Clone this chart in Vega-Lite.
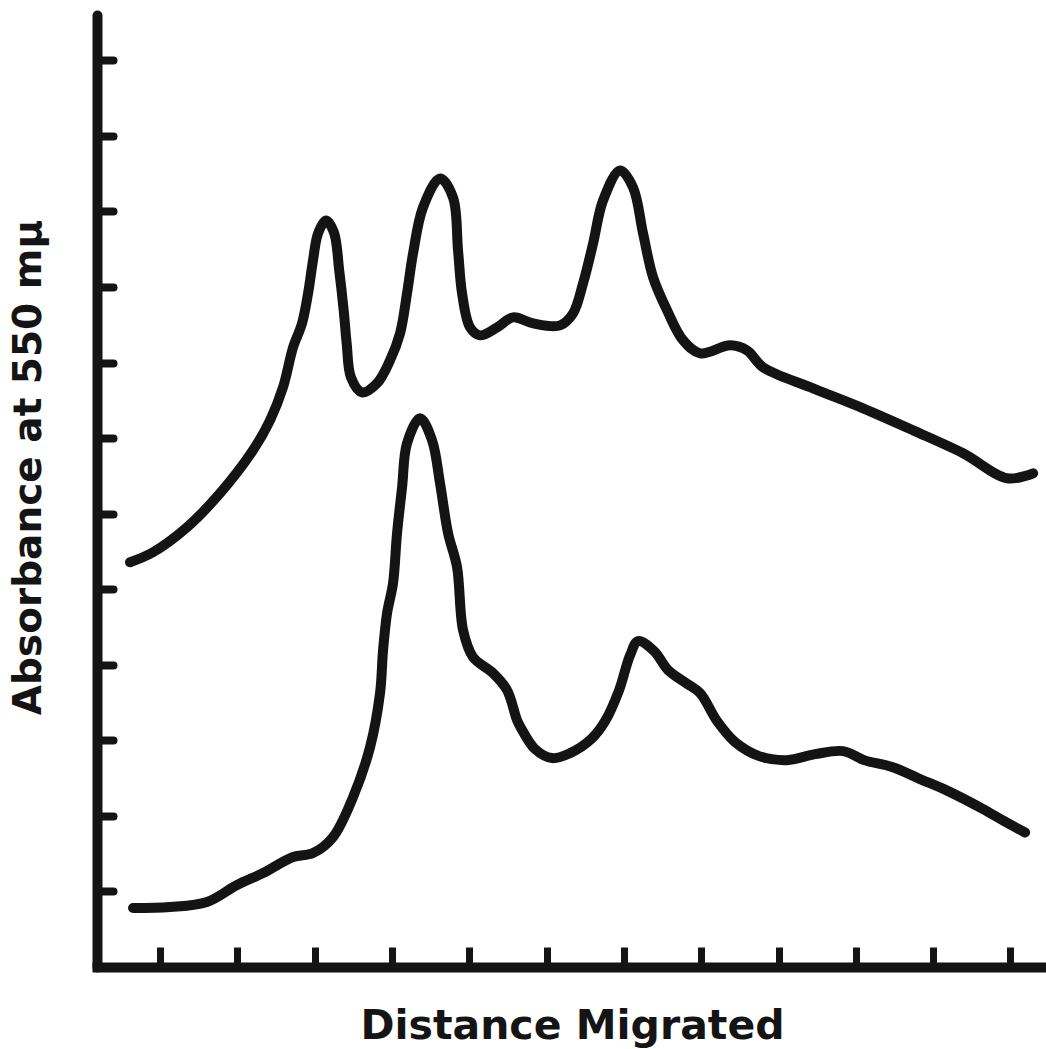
{
  "$schema": "https://vega.github.io/schema/vega-lite/v6.json",
  "width": 949,
  "height": 952,
  "autosize": {"type": "none"},
  "padding": {"left": 97, "top": 15, "right": 0, "bottom": 82},
  "background": "white",
  "config": {"view": {"stroke": null}},
  "data": {
    "values": [
      {"curve": "upper", "distance": 0.612, "absorbance": 5.357},
      {"curve": "upper", "distance": 0.909, "absorbance": 5.489},
      {"curve": "upper", "distance": 1.349, "absorbance": 5.820},
      {"curve": "upper", "distance": 1.776, "absorbance": 6.270},
      {"curve": "upper", "distance": 2.203, "absorbance": 6.839},
      {"curve": "upper", "distance": 2.423, "absorbance": 7.235},
      {"curve": "upper", "distance": 2.591, "absorbance": 7.672},
      {"curve": "upper", "distance": 2.721, "absorbance": 8.201},
      {"curve": "upper", "distance": 2.837, "absorbance": 8.519},
      {"curve": "upper", "distance": 2.915, "absorbance": 8.915},
      {"curve": "upper", "distance": 2.979, "absorbance": 9.352},
      {"curve": "upper", "distance": 3.044, "absorbance": 9.709},
      {"curve": "upper", "distance": 3.148, "absorbance": 9.881},
      {"curve": "upper", "distance": 3.250, "absorbance": 9.720},
      {"curve": "upper", "distance": 3.320, "absorbance": 9.200},
      {"curve": "upper", "distance": 3.375, "absorbance": 8.700},
      {"curve": "upper", "distance": 3.415, "absorbance": 8.250},
      {"curve": "upper", "distance": 3.470, "absorbance": 7.804},
      {"curve": "upper", "distance": 3.613, "absorbance": 7.606},
      {"curve": "upper", "distance": 3.807, "absorbance": 7.725},
      {"curve": "upper", "distance": 3.975, "absorbance": 8.029},
      {"curve": "upper", "distance": 4.105, "absorbance": 8.386},
      {"curve": "upper", "distance": 4.195, "absorbance": 8.915},
      {"curve": "upper", "distance": 4.273, "absorbance": 9.444},
      {"curve": "upper", "distance": 4.402, "absorbance": 10.053},
      {"curve": "upper", "distance": 4.622, "absorbance": 10.437},
      {"curve": "upper", "distance": 4.790, "absorbance": 10.185},
      {"curve": "upper", "distance": 4.855, "absorbance": 9.484},
      {"curve": "upper", "distance": 4.907, "absorbance": 8.915},
      {"curve": "upper", "distance": 5.010, "absorbance": 8.466},
      {"curve": "upper", "distance": 5.140, "absorbance": 8.360},
      {"curve": "upper", "distance": 5.360, "absorbance": 8.466},
      {"curve": "upper", "distance": 5.567, "absorbance": 8.598},
      {"curve": "upper", "distance": 5.825, "absorbance": 8.519},
      {"curve": "upper", "distance": 6.175, "absorbance": 8.492},
      {"curve": "upper", "distance": 6.343, "absorbance": 8.651},
      {"curve": "upper", "distance": 6.472, "absorbance": 9.048},
      {"curve": "upper", "distance": 6.602, "absorbance": 9.577},
      {"curve": "upper", "distance": 6.731, "absorbance": 10.146},
      {"curve": "upper", "distance": 6.951, "absorbance": 10.542},
      {"curve": "upper", "distance": 7.119, "absorbance": 10.317},
      {"curve": "upper", "distance": 7.248, "absorbance": 9.709},
      {"curve": "upper", "distance": 7.378, "absorbance": 9.127},
      {"curve": "upper", "distance": 7.559, "absorbance": 8.690},
      {"curve": "upper", "distance": 7.766, "absorbance": 8.294},
      {"curve": "upper", "distance": 7.986, "absorbance": 8.122},
      {"curve": "upper", "distance": 8.374, "absorbance": 8.228},
      {"curve": "upper", "distance": 8.594, "absorbance": 8.161},
      {"curve": "upper", "distance": 8.801, "absorbance": 7.937},
      {"curve": "upper", "distance": 9.448, "absorbance": 7.659},
      {"curve": "upper", "distance": 10.094, "absorbance": 7.394},
      {"curve": "upper", "distance": 10.741, "absorbance": 7.103},
      {"curve": "upper", "distance": 11.388, "absorbance": 6.799},
      {"curve": "upper", "distance": 11.957, "absorbance": 6.468},
      {"curve": "upper", "distance": 12.294, "absorbance": 6.534},
      {"curve": "lower", "distance": 0.651, "absorbance": 0.780},
      {"curve": "lower", "distance": 1.129, "absorbance": 0.794},
      {"curve": "lower", "distance": 1.608, "absorbance": 0.860},
      {"curve": "lower", "distance": 1.996, "absorbance": 1.085},
      {"curve": "lower", "distance": 2.333, "absorbance": 1.243},
      {"curve": "lower", "distance": 2.721, "absorbance": 1.455},
      {"curve": "lower", "distance": 2.979, "absorbance": 1.508},
      {"curve": "lower", "distance": 3.238, "absorbance": 1.720},
      {"curve": "lower", "distance": 3.497, "absorbance": 2.249},
      {"curve": "lower", "distance": 3.717, "absorbance": 2.910},
      {"curve": "lower", "distance": 3.846, "absorbance": 3.624},
      {"curve": "lower", "distance": 3.885, "absorbance": 4.193},
      {"curve": "lower", "distance": 3.937, "absorbance": 4.683},
      {"curve": "lower", "distance": 4.014, "absorbance": 5.079},
      {"curve": "lower", "distance": 4.066, "absorbance": 5.741},
      {"curve": "lower", "distance": 4.131, "absorbance": 6.349},
      {"curve": "lower", "distance": 4.195, "absorbance": 6.931},
      {"curve": "lower", "distance": 4.364, "absorbance": 7.262},
      {"curve": "lower", "distance": 4.519, "absorbance": 6.971},
      {"curve": "lower", "distance": 4.622, "absorbance": 6.402},
      {"curve": "lower", "distance": 4.726, "absorbance": 5.741},
      {"curve": "lower", "distance": 4.842, "absorbance": 5.291},
      {"curve": "lower", "distance": 4.920, "absorbance": 4.458},
      {"curve": "lower", "distance": 5.049, "absorbance": 4.101},
      {"curve": "lower", "distance": 5.308, "absorbance": 3.889},
      {"curve": "lower", "distance": 5.489, "absorbance": 3.664},
      {"curve": "lower", "distance": 5.618, "absorbance": 3.267},
      {"curve": "lower", "distance": 5.670, "absorbance": 3.161},
      {"curve": "lower", "distance": 5.851, "absorbance": 2.884},
      {"curve": "lower", "distance": 6.071, "absorbance": 2.765},
      {"curve": "lower", "distance": 6.304, "absorbance": 2.831},
      {"curve": "lower", "distance": 6.576, "absorbance": 3.016},
      {"curve": "lower", "distance": 6.757, "absorbance": 3.254},
      {"curve": "lower", "distance": 6.938, "absorbance": 3.664},
      {"curve": "lower", "distance": 7.080, "absorbance": 4.127},
      {"curve": "lower", "distance": 7.184, "absorbance": 4.312},
      {"curve": "lower", "distance": 7.391, "absorbance": 4.180},
      {"curve": "lower", "distance": 7.572, "absorbance": 3.929},
      {"curve": "lower", "distance": 7.805, "absorbance": 3.757},
      {"curve": "lower", "distance": 7.986, "absorbance": 3.624},
      {"curve": "lower", "distance": 8.206, "absorbance": 3.254},
      {"curve": "lower", "distance": 8.439, "absorbance": 2.976},
      {"curve": "lower", "distance": 8.749, "absorbance": 2.791},
      {"curve": "lower", "distance": 9.111, "absorbance": 2.738},
      {"curve": "lower", "distance": 9.473, "absorbance": 2.817},
      {"curve": "lower", "distance": 9.836, "absorbance": 2.857},
      {"curve": "lower", "distance": 10.107, "absorbance": 2.738},
      {"curve": "lower", "distance": 10.470, "absorbance": 2.646},
      {"curve": "lower", "distance": 10.832, "absorbance": 2.487},
      {"curve": "lower", "distance": 11.194, "absorbance": 2.328},
      {"curve": "lower", "distance": 11.647, "absorbance": 2.090},
      {"curve": "lower", "distance": 11.919, "absorbance": 1.930},
      {"curve": "lower", "distance": 12.190, "absorbance": 1.780}
    ]
  },
  "mark": {
    "type": "line",
    "strokeWidth": 10,
    "color": "#141414",
    "strokeCap": "round",
    "strokeJoin": "round",
    "interpolate": "catmull-rom"
  },
  "encoding": {
    "detail": {"field": "curve", "type": "nominal"},
    "x": {
      "field": "distance",
      "type": "quantitative",
      "scale": {"domain": [0.185, 12.46], "nice": false, "zero": false},
      "axis": {
        "title": "Distance Migrated",
        "values": [1, 2, 3, 4, 5, 6, 7, 8, 9, 10, 11, 12],
        "labels": false,
        "grid": false,
        "domainWidth": 10,
        "domainColor": "#141414",
        "domainCap": "square",
        "tickSize": -20,
        "tickWidth": 7,
        "tickColor": "#141414",
        "titleFont": "DejaVu Sans",
        "titleFontWeight": "bold",
        "titleFontSize": 41,
        "titleColor": "#141414",
        "titleX": 475,
        "titleY": 71,
        "titleBaseline": "alphabetic",
        "titleAlign": "center"
      }
    },
    "y": {
      "field": "absorbance",
      "type": "quantitative",
      "scale": {"domain": [0, 12.6], "nice": false, "zero": false},
      "axis": {
        "title": "Absorbance at 550 mμ",
        "values": [1, 2, 3, 4, 5, 6, 7, 8, 9, 10, 11, 12],
        "labels": false,
        "grid": false,
        "domainWidth": 10,
        "domainColor": "#141414",
        "domainCap": "round",
        "tickSize": -16,
        "tickWidth": 8,
        "tickCap": "round",
        "tickColor": "#141414",
        "titleFont": "DejaVu Sans",
        "titleFontWeight": "bold",
        "titleFontSize": 39,
        "titleColor": "#141414",
        "titleAngle": -90,
        "titleX": -57,
        "titleY": 452,
        "titleBaseline": "alphabetic",
        "titleAlign": "center"
      }
    }
  }
}
